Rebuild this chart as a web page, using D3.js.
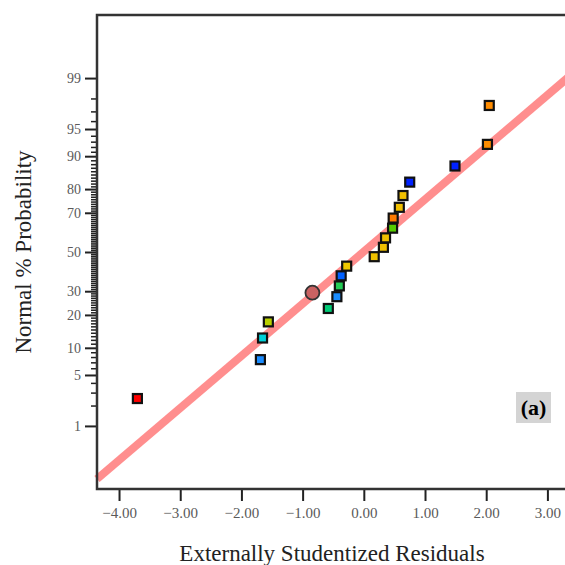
<!DOCTYPE html>
<html>
<head>
<meta charset="utf-8">
<script src="https://cdn.jsdelivr.net/npm/d3@7"></script>
<style>
  body { margin: 0; background: #fff; }
  svg { display: block; }
  .domain { display: none; }
</style>
</head>
<body>
<div id="chart"></div>
<script>
// residuals and their normal % probability (20 runs)
var residuals = [-3.70, -1.69, -1.655, -1.56, -0.58, -0.44, -0.40, -0.37, -0.28, 0.17,
                 0.32, 0.355, 0.47, 0.48, 0.58, 0.64, 0.75, 1.49, 2.02, 2.05];
var probs = [2.5, 7.5, 12.5, 17.5, 22.5, 27.5, 32.5, 37.5, 42.5, 47.5,
             52.5, 57.5, 62.5, 67.5, 72.5, 77.5, 82.5, 87.5, 92.5, 97.5];
var colors = ["#ff0000", "#1a8cff", "#00d0d8", "#b8d000", "#00cc77", "#1a8cff", "#22cc55", "#0060ff", "#f0c800", "#f0c000",
              "#f0c000", "#f0c000", "#55cc00", "#ff7a00", "#f0c000", "#f0c000", "#0022ff", "#0022ff", "#ff8c00", "#ff8c00"];

// highlighted point
var circleX = [-0.84];
var circleP = [29.3];

// fitted line ends (residual, % probability)
var lineX = [-4.36, 3.5];
var lineP = [0.12, 99.28];

var xTicks = [-4, -3, -2, -1, 0, 1, 2, 3];
var yMajor = [1, 5, 10, 20, 30, 50, 70, 80, 90, 95, 99];
var yMinor = [2, 3, 4, 6, 7, 8, 9, 11, 12, 13, 14, 15, 16, 17, 18, 19, 21, 22, 23, 24, 25, 26, 27, 28, 29,
              31, 32, 33, 34, 35, 36, 37, 38, 39, 40, 41, 42, 43, 44, 45, 46, 47, 48, 49,
              51, 52, 53, 54, 55, 56, 57, 58, 59, 60, 61, 62, 63, 64, 65, 66, 67, 68, 69,
              71, 72, 73, 74, 75, 76, 77, 78, 79, 81, 82, 83, 84, 85, 86, 87, 88, 89, 91, 92, 93, 94, 96, 97, 98];

// inverse normal cdf (Acklam approximation)
function probit(p) {
  var a = [-39.69683028665376, 220.9460984245205, -275.9285104469687, 138.3577518672690, -30.66479806614716, 2.506628277459239];
  var b = [-54.47609879822406, 161.5858368580409, -155.6989798598866, 66.80131188771972, -13.28068155288572];
  var c = [-0.007784894002430293, -0.3223964580411365, -2.400758277161838, -2.549732539343734, 4.374664141464968, 2.938163982698783];
  var d = [0.007784695709041462, 0.3224671290700398, 2.445134137142996, 3.754408661907416];
  var q, r;
  if (p < 0.02425) {
    q = Math.sqrt(-2 * Math.log(p));
    return (((((c[0]*q+c[1])*q+c[2])*q+c[3])*q+c[4])*q+c[5]) / ((((d[0]*q+d[1])*q+d[2])*q+d[3])*q+1);
  }
  if (p > 1 - 0.02425) {
    q = Math.sqrt(-2 * Math.log(1 - p));
    return -(((((c[0]*q+c[1])*q+c[2])*q+c[3])*q+c[4])*q+c[5]) / ((((d[0]*q+d[1])*q+d[2])*q+d[3])*q+1);
  }
  q = p - 0.5; r = q * q;
  return (((((a[0]*r+a[1])*r+a[2])*r+a[3])*r+a[4])*r+a[5])*q / (((((b[0]*r+b[1])*r+b[2])*r+b[3])*r+b[4])*r+1);
}
function z(p) { return probit(p / 100); }

var margin = {top: 15, right: 0, bottom: 76, left: 97},
    width = 481,
    height = 565 - margin.top - margin.bottom;

var x = d3.scaleLinear().domain([-4.36, 3.5]).range([0, width]);
var y = d3.scaleLinear().domain([-3.17, 3.17]).range([height, 0]);

var svg = d3.select("#chart").append("svg")
    .attr("width", 565)
    .attr("height", 565)
  .append("g")
    .attr("transform", "translate(" + margin.left + "," + margin.top + ")");

// fitted line
svg.append("line")
    .attr("x1", x(lineX[0])).attr("y1", y(z(lineP[0])))
    .attr("x2", x(lineX[1])).attr("y2", y(z(lineP[1])))
    .attr("stroke", "#ff7a7a")
    .attr("stroke-opacity", 0.85)
    .attr("stroke-width", 8);

function tickText(g, size) {
  g.selectAll(".tick text")
      .style("font-family", "'Liberation Serif', 'Times New Roman', serif")
      .style("font-size", size)
      .style("fill", "#5a5a5a");
}

// x axis
svg.append("g")
    .attr("class", "xAxis")
    .attr("transform", "translate(0," + height + ")")
    .call(d3.axisBottom(x).tickValues(xTicks).tickFormat(d3.format(".2f")).tickSize(12).tickPadding(6))
    .call(function(g) {
      g.selectAll(".tick line").attr("stroke", "#222").attr("stroke-width", 2);
      tickText(g, "15px");
    });

// y axis, minor ticks
svg.append("g")
    .call(d3.axisLeft(y).tickValues(yMinor.map(z)).tickFormat("").tickSize(6))
    .call(function(g) { g.selectAll(".tick line").attr("stroke", "#222").attr("stroke-width", 1.5); });

// y axis, major ticks
svg.append("g")
    .attr("class", "yAxis")
    .call(d3.axisLeft(y).tickValues(yMajor.map(z)).tickFormat(function(d, i) { return yMajor[i]; }).tickSize(12).tickPadding(4))
    .call(function(g) {
      g.selectAll(".tick line").attr("stroke", "#222").attr("stroke-width", 2);
      tickText(g, "14px");
    });

// frame
svg.append("path")
    .attr("d", "M" + (width + 10) + ",0H0V" + height + "H" + (width + 10))
    .attr("fill", "none")
    .attr("stroke", "#333")
    .attr("stroke-width", 2.5);

// points
var pts = residuals.map(function(r, i) { return {res: r, p: probs[i], c: colors[i]}; });
svg.selectAll(".pt")
    .data(pts)
  .enter().append("rect")
    .attr("class", "pt")
    .attr("x", function(d) { return x(d.res) - 4.5; })
    .attr("y", function(d) { return y(z(d.p)) - 4.5; })
    .attr("width", 9)
    .attr("height", 9)
    .attr("fill", function(d) { return d.c; })
    .attr("stroke", "#111")
    .attr("stroke-width", 2.2);

svg.selectAll(".hl")
    .data(circleX)
  .enter().append("circle")
    .attr("cx", function(d) { return x(d); })
    .attr("cy", function(d, i) { return y(z(circleP[i])); })
    .attr("r", 7)
    .attr("fill", "#c96262")
    .attr("stroke", "#333")
    .attr("stroke-width", 1.8);

// axis titles
svg.append("text")
    .attr("x", 235)
    .attr("y", height + 72)
    .attr("text-anchor", "middle")
    .style("font-family", "'Liberation Serif', serif")
    .style("font-size", "23px")
    .style("fill", "#222")
    .text("Externally Studentized Residuals");

svg.append("text")
    .attr("transform", "translate(-66," + (height / 2) + ") rotate(-90)")
    .attr("text-anchor", "middle")
    .style("font-family", "'Liberation Serif', serif")
    .style("font-size", "23px")
    .style("fill", "#222")
    .text("Normal % Probability");

// panel label
var lab = svg.append("g").attr("transform", "translate(419,377)");
lab.append("rect").attr("width", 35).attr("height", 31).attr("fill", "#d4d4d4");
lab.append("text")
    .attr("x", 17.5).attr("y", 23)
    .attr("text-anchor", "middle")
    .style("font-family", "'Liberation Serif', serif")
    .style("font-weight", "bold")
    .style("font-size", "22px")
    .style("fill", "#000")
    .text("(a)");
</script>
</body>
</html>
